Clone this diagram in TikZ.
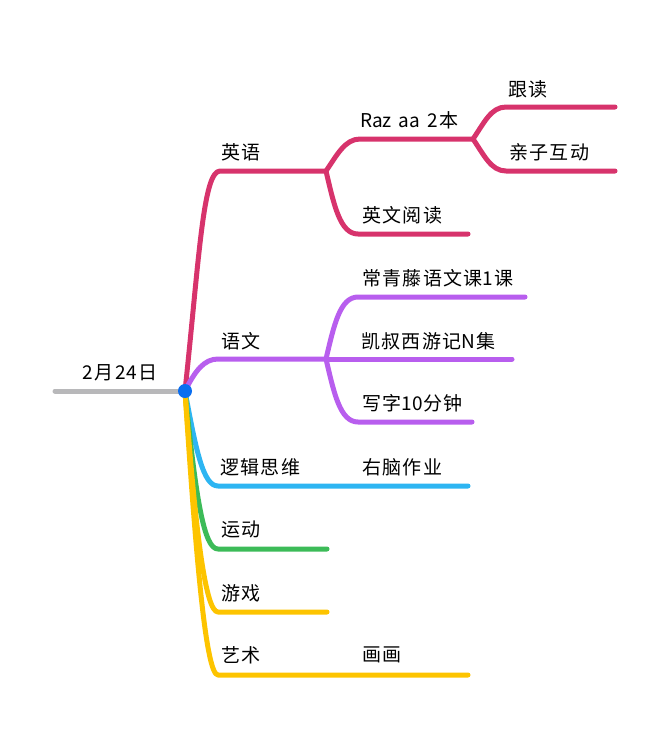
\documentclass[tikz,border=0pt]{standalone}
\usepackage{fontspec}
\setmainfont[LetterSpace=7]{Noto Sans CJK SC}
\newfontfamily\latn{Noto Sans CJK SC}
\begin{document}
\begin{tikzpicture}[x=1pt,y=-1pt,
  lab/.style={anchor=west,inner sep=0pt,font=\fontsize{19}{21}\selectfont,text=black},
  br/.style={line width=5pt,line cap=round,line join=round},
  pink/.style={br,draw=cpink},purp/.style={br,draw=cpurp},sky/.style={br,draw=csky},
  grn/.style={br,draw=cgrn},yel/.style={br,draw=cyel},gry/.style={br,draw=cgry}]
\definecolor{cpink}{HTML}{D7336C}
\definecolor{cpurp}{HTML}{B85EEE}
\definecolor{csky}{HTML}{2DB5F2}
\definecolor{cgrn}{HTML}{3CBB58}
\definecolor{cyel}{HTML}{FDC400}
\definecolor{cgry}{HTML}{B8B8BA}
\definecolor{cdot}{HTML}{0A6EF0}
\useasboundingbox (0,0) rectangle (670,731);
\coordinate (root) at (185,391);
\coordinate (rootend) at (55,391);
\coordinate (en) at (326,171);
\coordinate (enb) at (220,171);
\coordinate (raz) at (473,139);
\coordinate (razb) at (360,139);
\coordinate (gd) at (615,107);
\coordinate (gdb) at (506,107);
\coordinate (qz) at (615,171);
\coordinate (qzb) at (506,171);
\coordinate (yw) at (468,234);
\coordinate (ywb) at (358,234);
\coordinate (cn) at (326,359);
\coordinate (cnb) at (218,359);
\coordinate (cq) at (525,297);
\coordinate (cqb) at (358,297);
\coordinate (ks) at (512,359);
\coordinate (xz) at (472,422);
\coordinate (xzb) at (358,422);
\coordinate (lj) at (468,486);
\coordinate (ljb) at (218,486);
\coordinate (yd) at (327,549);
\coordinate (ydb) at (218,549);
\coordinate (yx) at (327,612);
\coordinate (yxb) at (218,612);
\coordinate (ys) at (468,675);
\coordinate (ysb) at (218,675);
\draw[gry] (rootend) -- (root);
\draw[sky] (root) .. controls (196,450) and (203,486) .. (ljb) -- (lj);
\draw[grn] (root) .. controls (196,500) and (204,549) .. (ydb) -- (yd);
\draw[yel] (root) .. controls (196,540) and (206,612) .. (yxb) -- (yx);
\draw[yel] (root) .. controls (196,560) and (206,675) .. (ysb) -- (ys);
\draw[pink] (root) .. controls (199,260) and (203,171) .. (enb) -- (en);
\draw[pink] (en) .. controls (337,155) and (345,139) .. (razb) -- (raz);
\draw[pink] (en) .. controls (334,205) and (340,234) .. (ywb) -- (yw);
\draw[pink] (raz) .. controls (484,123) and (491,107) .. (gdb) -- (gd);
\draw[pink] (raz) .. controls (484,155) and (491,171) .. (qzb) -- (qz);
\draw[purp] (root) .. controls (195,371) and (204,359) .. (cnb) -- (cn);
\draw[purp] (cn) .. controls (334,325) and (340,297) .. (cqb) -- (cq);
\draw[purp] (cn) -- (ks);
\draw[purp] (cn) .. controls (334,393) and (340,422) .. (xzb) -- (xz);
\node[circle,fill=cdot,minimum size=14pt,inner sep=0pt] (dot) at (root) {};
\node[lab] (t0) at (82,373) {2\kern2pt 月24日};
\node[lab] (t1) at (221,152) {英语};
\node[lab] (t2) at (360,120) {{\latn Raz\kern7pt aa}\kern7pt 2\kern2pt 本};
\node[lab] (t3) at (508,89) {跟读};
\node[lab] (t4) at (509,152) {亲子互动};
\node[lab] (t5) at (362,215) {英文阅读};
\node[lab] (t6) at (221,341) {语文};
\node[lab] (t7) at (362,278) {常青藤语文课{\latn 1}\kern1pt 课};
\node[lab] (t8) at (361,341) {凯叔西游记{\latn N}\kern1pt 集};
\node[lab] (t9) at (362,403) {写字{\latn 10}\kern1pt 分钟};
\node[lab] (t10) at (220,467) {逻辑思维};
\node[lab] (t11) at (362,467) {右脑作业};
\node[lab] (t12) at (221,529) {运动};
\node[lab] (t13) at (221,593) {游戏};
\node[lab] (t14) at (221,655) {艺术};
\node[lab] (t15) at (362,655) {画画};
\end{tikzpicture}
\end{document}
